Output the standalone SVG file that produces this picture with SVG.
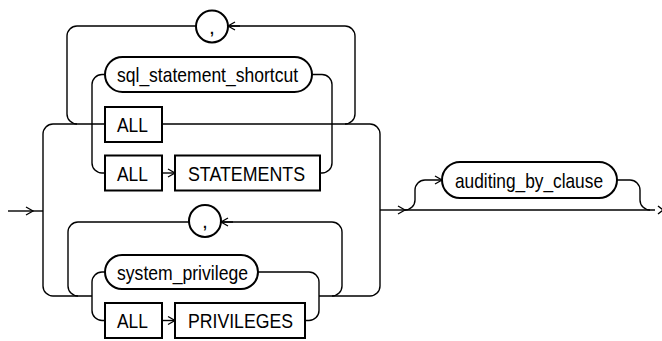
<svg xmlns="http://www.w3.org/2000/svg" width="662" height="341" viewBox="0 0 662 341">
<style>
.c{fill:none;stroke:#000;stroke-width:1.4}
.b{fill:#fff;stroke:#000;stroke-width:2}
.t{font-family:"Liberation Sans",Arial,sans-serif;font-size:21px;fill:#000}
</style>
<defs>
<marker id="arr" markerUnits="userSpaceOnUse" markerWidth="10" markerHeight="12" viewBox="-8 -6 10 12" refX="0" refY="0" orient="auto" overflow="visible">
<path d="M-7,-4 L0,0 L-7,4" fill="none" stroke="#000" stroke-width="1.3"/>
</marker>
</defs>
<rect width="662" height="341" fill="#fff"/>
<g id="connectors">
<path class="c" d="M8,211 H33" marker-end="url(#arr)"/>
<path class="c" d="M33,211 H43"/>
<path class="c" d="M105,124 H53 A10,10 0 0 0 43,134 V286 A10,10 0 0 0 53,296 H92"/>
<path class="c" d="M162,124 H370 A10,10 0 0 1 380,134 V286 A10,10 0 0 1 370,296 H319"/>
<path class="c" d="M77,124 A10,10 0 0 1 67,114 V36 A10,10 0 0 1 77,26 H345 A10,10 0 0 1 355,36 V114 A10,10 0 0 1 345,124"/>
<path class="c" d="M105,74.5 H102 A10,10 0 0 0 92,84.5 V163 A10,10 0 0 0 102,173 H105"/>
<path class="c" d="M312,74.5 H322 A10,10 0 0 1 332,84.5 V163 A10,10 0 0 1 322,173 H320"/>
<path class="c" d="M162,173 H175" marker-end="url(#arr)"/>
<path class="c" d="M78,296 A10,10 0 0 1 68,286 V232 A10,10 0 0 1 78,222 H332 A10,10 0 0 1 342,232 V286 A10,10 0 0 1 332,296"/>
<path class="c" d="M105,272 H102 A10,10 0 0 0 92,282 V310.5 A10,10 0 0 0 102,320.5 H105"/>
<path class="c" d="M258,272 H309 A10,10 0 0 1 319,282 V310.5 A10,10 0 0 1 309,320.5 H305"/>
<path class="c" d="M162,320.5 H175" marker-end="url(#arr)"/>
<path class="c" d="M380,210 H405" marker-end="url(#arr)"/>
<path class="c" d="M405,210 H655"/>
<path class="c" d="M405,210 A10,10 0 0 0 415,200 V190 A10,10 0 0 1 425,180 H442" marker-end="url(#arr)"/>
<path class="c" d="M617,180 H630 A10,10 0 0 1 640,190 V200 A10,10 0 0 0 650,210"/>
<polyline class="c" points="658,206 663,210 658,214"/>
</g>
<g id="comma1">
<circle class="b" cx="212" cy="26.5" r="16"/>
<text class="t" x="212" y="33.5" text-anchor="middle">,</text>
<path class="c" d="M240,26 H228" marker-end="url(#arr)"/>
</g>
<g id="sql_statement_shortcut">
<rect class="b" x="105" y="57" width="207" height="35" rx="17.5"/>
<text class="t" x="117" y="82" textLength="181" lengthAdjust="spacingAndGlyphs">sql_statement_shortcut</text>
</g>
<g id="all1">
<rect class="b" x="105" y="107" width="57" height="35"/>
<text class="t" x="117" y="131.5" textLength="31" lengthAdjust="spacingAndGlyphs">ALL</text>
</g>
<g id="all2">
<rect class="b" x="105" y="155.5" width="57" height="35"/>
<text class="t" x="117" y="180.5" textLength="31" lengthAdjust="spacingAndGlyphs">ALL</text>
</g>
<g id="statements">
<rect class="b" x="175" y="155.5" width="145" height="35"/>
<text class="t" x="188" y="180.5" textLength="117" lengthAdjust="spacingAndGlyphs">STATEMENTS</text>
</g>
<g id="comma2">
<circle class="b" cx="205" cy="221" r="16"/>
<text class="t" x="205" y="228" text-anchor="middle">,</text>
<path class="c" d="M233,222 H221" marker-end="url(#arr)"/>
</g>
<g id="system_privilege">
<rect class="b" x="105" y="255" width="153" height="34" rx="17"/>
<text class="t" x="117" y="279.5" textLength="131" lengthAdjust="spacingAndGlyphs">system_privilege</text>
</g>
<g id="all3">
<rect class="b" x="105" y="303" width="57" height="35"/>
<text class="t" x="117" y="328" textLength="31" lengthAdjust="spacingAndGlyphs">ALL</text>
</g>
<g id="privileges">
<rect class="b" x="175" y="303" width="130" height="35"/>
<text class="t" x="188" y="328" textLength="105" lengthAdjust="spacingAndGlyphs">PRIVILEGES</text>
</g>
<g id="auditing_by_clause">
<rect class="b" x="442" y="162" width="175" height="36" rx="18"/>
<text class="t" x="455" y="187.5" textLength="148" lengthAdjust="spacingAndGlyphs">auditing_by_clause</text>
</g>
</svg>
